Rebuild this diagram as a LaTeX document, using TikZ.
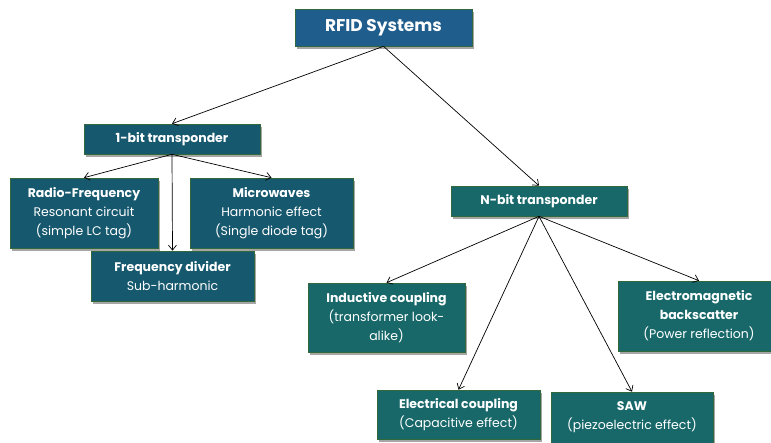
\documentclass[tikz,border=0pt]{standalone}
\usepackage{fontspec}
\setmainfont{Poppins}
\usetikzlibrary{arrows.meta,shadows}
\definecolor{topblue}{RGB}{31,93,140}
\definecolor{grpone}{RGB}{22,88,110}
\definecolor{grpn}{RGB}{24,104,106}
\definecolor{edgegreen}{RGB}{50,105,60}
\tikzset{
  box/.style={rectangle, draw=edgegreen, line width=0.6pt, text=white, align=center,
    inner sep=0pt, font=\fontsize{12.5}{19}\selectfont,
    drop shadow={shadow xshift=2pt, shadow yshift=-2.5pt, fill=black, opacity=0.35}},
  onebox/.style={box, fill=grpone},
  nbox/.style={box, fill=grpn},
  conn/.style={draw=black, line width=0.7pt, -{Straight Barb[length=5pt,width=8pt]}},
}
\begin{document}
\begin{tikzpicture}[x=1pt,y=-1pt]
\useasboundingbox (0,0) rectangle (771,442);
\node[box, fill=topblue, minimum width=177pt, minimum height=37pt, font=\fontsize{17}{20}\selectfont\bfseries] (rfid) at (383.5,27.5) {RFID Systems};
\node[onebox, minimum width=176pt, minimum height=30pt] (one) at (172,139) {\textbf{1-bit transponder}};
\node[onebox, minimum width=148pt, minimum height=70pt] (rf) at (84,213) {\textbf{Radio-Frequency}\\Resonant circuit\\(simple LC tag)};
\node[onebox, minimum width=163pt, minimum height=70pt] (mw) at (271.5,213) {\textbf{Microwaves}\\Harmonic effect\\(Single diode tag)};
\node[onebox, minimum width=163pt, minimum height=50pt] (fd) at (172.5,276) {\textbf{Frequency divider}\\Sub-harmonic};
\node[nbox, minimum width=176pt, minimum height=30pt] (nbit) at (539,201) {\textbf{N-bit transponder}};
\node[nbox, minimum width=157pt, minimum height=69pt] (ind) at (386.5,317.5) {\textbf{Inductive coupling}\\(transformer look-\\alike)};
\node[nbox, minimum width=162pt, minimum height=70pt] (em) at (699,316) {\textbf{Electromagnetic}\\\textbf{backscatter}\\(Power reflection)};
\node[nbox, minimum width=163pt, minimum height=49pt] (elec) at (458.5,414.5) {\textbf{Electrical coupling}\\(Capacitive effect)};
\node[nbox, minimum width=162pt, minimum height=51pt] (saw) at (632,417.5) {\textbf{SAW}\\(piezoelectric effect)};
\draw[conn] (rfid.south) -- (one.north);
\draw[conn] (rfid.south) -- (nbit.north);
\draw[conn] (one.south) -- (rf.north);
\draw[conn] (one.south) -- (mw.north);
\draw[conn] (one.south) -- (fd.north);
\draw[conn] (nbit.south) -- (ind.north);
\draw[conn] (nbit.south) -- (elec.north);
\draw[conn] (nbit.south) -- (saw.north);
\draw[conn] (nbit.south) -- (em.north);
\end{tikzpicture}
\end{document}
